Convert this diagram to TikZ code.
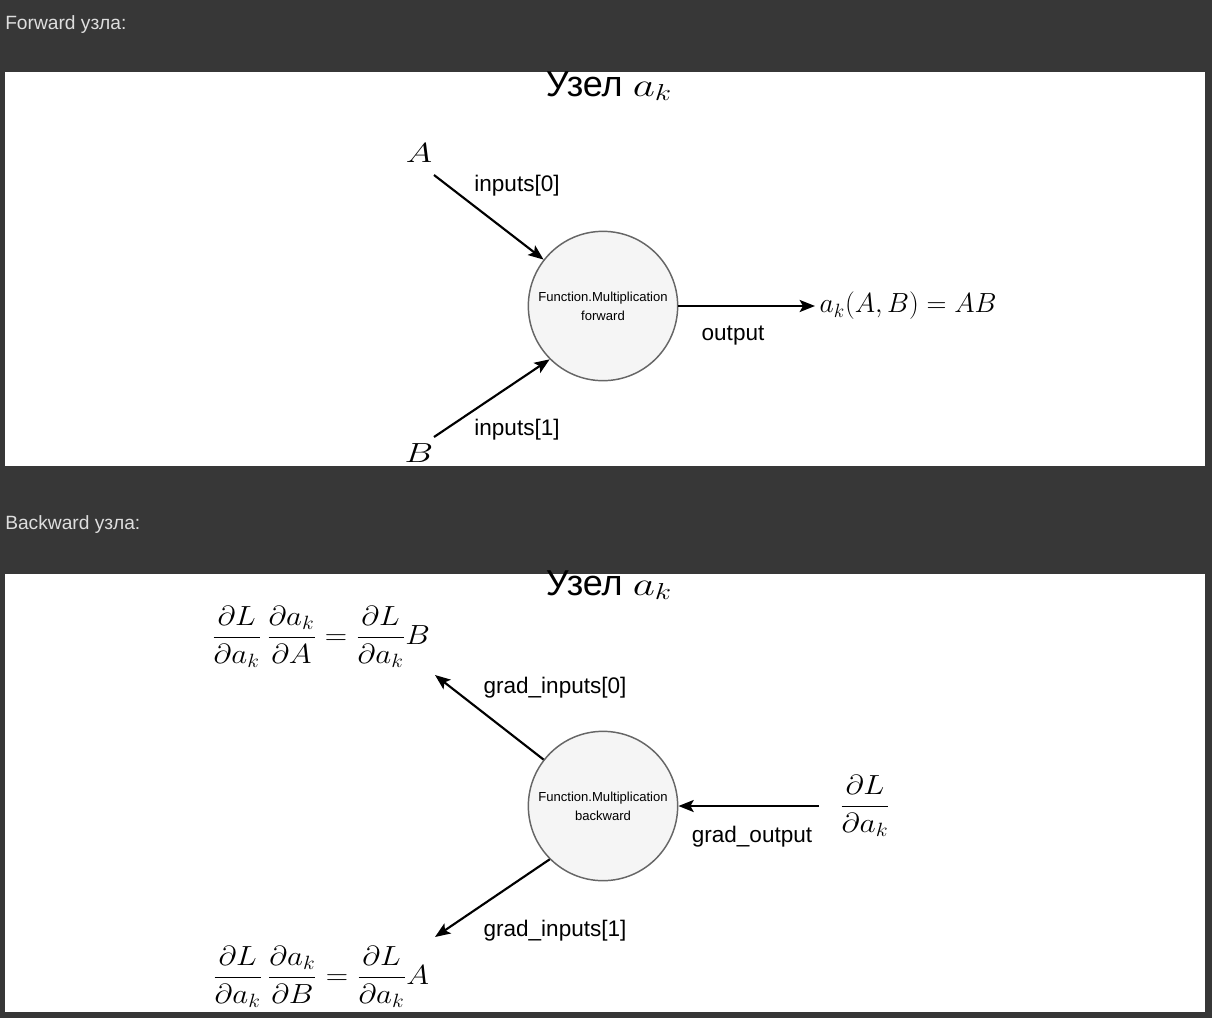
\documentclass[tikz,border=0pt]{standalone}
\usepackage{amsmath}
\usepackage{graphicx}
\usepackage{fontspec}
\setmainfont{Liberation Sans}
\usetikzlibrary{arrows.meta}
\definecolor{pagebg}{RGB}{55,55,55}
\definecolor{headtxt}{RGB}{222,222,222}
\definecolor{fnfill}{RGB}{245,245,245}
\definecolor{fnline}{RGB}{102,102,102}
\newcommand{\pdiff}[2]{\dfrac{\partial #1}{\partial #2}}
\newcommand{\widemath}[2]{\scalebox{#1}[1]{$#2$}}
\begin{document}
\begin{tikzpicture}[x=0.75pt,y=0.75pt,yscale=-1,
    head/.style={anchor=west,inner sep=0pt,text=headtxt,font=\fontsize{14.4}{17}\selectfont},
    panel/.style={fill=white},
    fn/.style={circle,draw=fnline,fill=fnfill,line width=1.1pt,minimum size=112pt,inner sep=0pt,align=center,font=\fontsize{9.8}{14.3}\selectfont},
    title/.style={anchor=base,font=\fontsize{27}{32}\selectfont},
    lbl/.style={font=\fontsize{16.9}{20}\selectfont},
    mth/.style={font=\fontsize{20}{24}\selectfont},
    flow/.style={line width=1.6pt,-{Stealth[length=11.5pt,width=9pt,inset=2.5pt]}}]
    % page and the two white panels
    \fill[pagebg] (0,0) rectangle (1212,1018);
    \fill[panel] (5,72) rectangle (1205,466);
    \fill[panel] (5,574) rectangle (1205,1012);
    \node[head] (fwdhead) at (5,25) {Forward узла:};
    \node[head] (bwdhead) at (5,525) {Backward узла:};
    % forward
    \node[title] (fwdtitle) at (609,96) {Узел \widemath{1.3}{a_k}};
    \node[fn] (mulf) at (603,306) {Function.Multiplication\\forward};
    \node[mth,anchor=base] (A) at (419,162) {\widemath{1.3}{A}};
    \node[mth,anchor=base] (B) at (419,462) {\widemath{1.3}{B}};
    \node[mth,anchor=west] (outf) at (815,306) {$a_k(A,B)=AB$};
    \coordinate (a0) at (434,175);
    \coordinate (b0) at (434,437);
    \draw[flow] (a0) -- (mulf.142);
    \draw[flow] (b0) -- (mulf.225);
    \draw[flow] (mulf) -- (outf);
    \node[lbl] (in0lbl) at (517,186) {inputs[0]};
    \node[lbl] (in1lbl) at (517,430) {inputs[1]};
    \node[lbl] (outlbl) at (733,336) {output};
    % backward
    \node[title] (bwdtitle) at (609,595) {Узел \widemath{1.3}{a_k}};
    \node[fn] (mulb) at (603,806) {Function.Multiplication\\backward};
    \node[mth] (gA) at (321,637) {\widemath{1.12}{\pdiff{L}{a_k}\,\pdiff{a_k}{A}=\pdiff{L}{a_k}B}};
    \node[mth] (gB) at (321,977) {\widemath{1.12}{\pdiff{L}{a_k}\,\pdiff{a_k}{B}=\pdiff{L}{a_k}A}};
    \node[mth] (gout) at (865,806) {\widemath{1.14}{\pdiff{L}{a_k}}};
    \coordinate (ga0) at (435,675);
    \coordinate (gb0) at (435,937);
    \draw[flow] (mulb.142) -- (ga0);
    \draw[flow] (mulb.225) -- (gb0);
    \draw[flow,shorten <=12pt] (gout) -- (mulb);
    \node[lbl] (ga0lbl) at (555,688) {grad\_inputs[0]};
    \node[lbl] (gb0lbl) at (555,931) {grad\_inputs[1]};
    \node[lbl] (goutlbl) at (752,837) {grad\_output};
\end{tikzpicture}
\end{document}
